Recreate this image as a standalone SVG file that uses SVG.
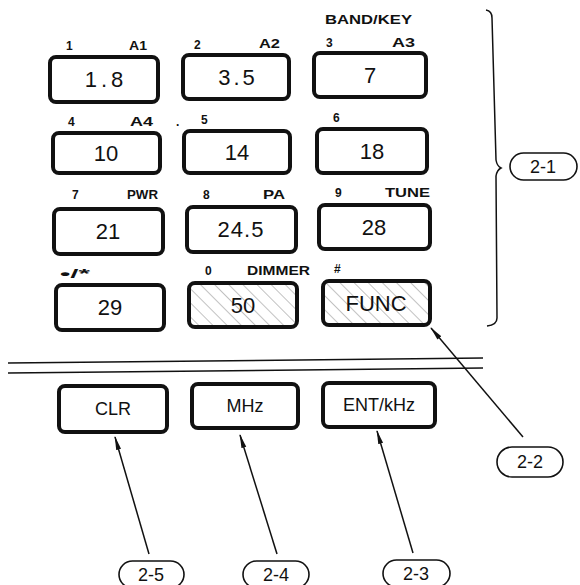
<svg xmlns="http://www.w3.org/2000/svg" width="580" height="585" viewBox="0 0 580 585">
<style>
.key{fill:#fff;stroke:#111;stroke-width:4}
.hatch{fill:url(#hatch);stroke:#111;stroke-width:4}
.kt{font-family:"Liberation Sans",Arial,sans-serif;font-size:22px;fill:#111;text-anchor:middle}
.kb{font-family:"Liberation Sans",Arial,sans-serif;font-size:18px;fill:#111;text-anchor:middle}
.lb{font-family:"Liberation Sans",Arial,sans-serif;font-size:12px;font-weight:bold;fill:#111}
.pill{fill:#fff;stroke:#111;stroke-width:1.6}
.pt{font-family:"Liberation Sans",Arial,sans-serif;font-size:18px;fill:#111;text-anchor:middle}
.ln{stroke:#111;stroke-width:1.5;fill:none}
</style>
<defs>
<pattern id="hatch" patternUnits="userSpaceOnUse" width="10" height="10" patternTransform="rotate(-45)">
<rect width="10" height="10" fill="#fff"/>
<line x1="0" y1="0" x2="0" y2="10" stroke="#999" stroke-width="1.2"/>
</pattern>
<marker id="ah" viewBox="0 0 14 8" refX="13" refY="4" markerWidth="14" markerHeight="8" markerUnits="userSpaceOnUse" orient="auto">
<path d="M0,1.5 L14,4 L0,6.5 Z" fill="#111"/>
</marker>
</defs>
<rect width="580" height="585" fill="#fff"/>

<g id="labels">
<text class="lb" x="325" y="24" textLength="87" lengthAdjust="spacingAndGlyphs">BAND/KEY</text>
<text class="lb" x="66" y="50">1</text>
<text class="lb" x="129" y="50" textLength="18" lengthAdjust="spacingAndGlyphs">A1</text>
<text class="lb" x="194" y="49">2</text>
<text class="lb" x="259" y="48" textLength="21" lengthAdjust="spacingAndGlyphs">A2</text>
<text class="lb" x="326" y="47">3</text>
<text class="lb" x="392" y="47" textLength="23" lengthAdjust="spacingAndGlyphs">A3</text>
<text class="lb" x="68" y="126">4</text>
<text class="lb" x="130" y="126" textLength="23" lengthAdjust="spacingAndGlyphs">A4</text>
<text class="lb" x="176" y="126">.</text>
<text class="lb" x="201" y="124">5</text>
<text class="lb" x="333" y="122">6</text>
<text class="lb" x="72" y="199">7</text>
<text class="lb" x="127" y="199" textLength="31" lengthAdjust="spacingAndGlyphs">PWR</text>
<text class="lb" x="203" y="199">8</text>
<text class="lb" x="263" y="199" textLength="22" lengthAdjust="spacingAndGlyphs">PA</text>
<text class="lb" x="335" y="197">9</text>
<text class="lb" x="385" y="197" textLength="45" lengthAdjust="spacingAndGlyphs">TUNE</text>
<text class="lb" x="60" y="278" textLength="30" lengthAdjust="spacingAndGlyphs">•/*</text>
<text class="lb" x="205" y="275">0</text>
<text class="lb" x="247" y="275" textLength="63" lengthAdjust="spacingAndGlyphs">DIMMER</text>
<text class="lb" x="334" y="273">#</text>
</g>

<g id="key-1.8"><rect class="key" x="50" y="57" width="108" height="45" rx="6"/><text class="kt" x="106" y="87" letter-spacing="4">1.8</text></g>
<g id="key-3.5"><rect class="key" x="183" y="55" width="106" height="44" rx="6"/><text class="kt" x="238" y="85" letter-spacing="3">3.5</text></g>
<g id="key-7"><rect class="key" x="314" y="53" width="112" height="44" rx="6"/><text class="kt" x="370" y="83">7</text></g>
<g id="key-10"><rect class="key" x="53" y="133" width="107" height="40" rx="6"/><text class="kt" x="106" y="161">10</text></g>
<g id="key-14"><rect class="key" x="184" y="131" width="106" height="42" rx="6"/><text class="kt" x="237" y="160">14</text></g>
<g id="key-18"><rect class="key" x="317" y="129" width="110" height="44" rx="6"/><text class="kt" x="372" y="159">18</text></g>
<g id="key-21"><rect class="key" x="54" y="209" width="109" height="45" rx="6"/><text class="kt" x="108" y="239">21</text></g>
<g id="key-24.5"><rect class="key" x="187" y="207" width="109" height="45" rx="6"/><text class="kt" x="241" y="237" letter-spacing="1">24.5</text></g>
<g id="key-28"><rect class="key" x="319" y="205" width="111" height="44" rx="6"/><text class="kt" x="374" y="235">28</text></g>
<g id="key-29"><rect class="key" x="56" y="285" width="108" height="45" rx="6"/><text class="kt" x="110" y="315">29</text></g>
<g id="key-50"><rect class="hatch" x="189" y="283" width="108" height="44" rx="6"/><text class="kt" x="243" y="313">50</text></g>
<g id="key-FUNC"><rect class="hatch" x="323" y="281" width="107" height="44" rx="6"/><text class="kt" x="376" y="311">FUNC</text></g>
<g id="key-CLR"><rect class="key" x="59" y="386" width="108" height="46" rx="6"/><text class="kb" x="113" y="415">CLR</text></g>
<g id="key-MHz"><rect class="key" x="192" y="384" width="106" height="44" rx="6"/><text class="kb" x="245" y="412">MHz</text></g>
<g id="key-ENT"><rect class="key" x="323" y="383" width="112" height="44" rx="6"/><text class="kb" x="379" y="411">ENT/kHz</text></g>

<g id="divider">
<line class="ln" x1="8" y1="363" x2="483" y2="358"/>
<line class="ln" x1="8" y1="373" x2="483" y2="368"/>
</g>

<g id="brace">
<path class="ln" d="M486,10 Q492,11 492,18 L496,160 Q497,166 501,168 Q497,170 496,176 L497,318 Q497,325 487,326"/>
</g>

<g id="callout-2-1"><rect class="pill" x="510" y="153" width="67" height="27" rx="13.5"/><text class="pt" x="543" y="173">2-1</text></g>
<g id="callout-2-2"><rect class="pill" x="497" y="447" width="66" height="30" rx="15"/><text class="pt" x="530" y="468">2-2</text></g>
<g id="callout-2-3"><rect class="pill" x="383" y="560" width="67" height="27" rx="13.5"/><text class="pt" x="416" y="580">2-3</text></g>
<g id="callout-2-4"><rect class="pill" x="243" y="561" width="66" height="27" rx="13.5"/><text class="pt" x="276" y="581">2-4</text></g>
<g id="callout-2-5"><rect class="pill" x="119" y="561" width="65" height="27" rx="13.5"/><text class="pt" x="151" y="581">2-5</text></g>

<g id="connectors">
<line class="ln" x1="523" y1="437" x2="431" y2="328" marker-end="url(#ah)"/>
<line class="ln" x1="413" y1="553" x2="377" y2="431" marker-end="url(#ah)"/>
<line class="ln" x1="277" y1="554" x2="240" y2="435" marker-end="url(#ah)"/>
<line class="ln" x1="149" y1="554" x2="115" y2="437" marker-end="url(#ah)"/>
</g>
</svg>
